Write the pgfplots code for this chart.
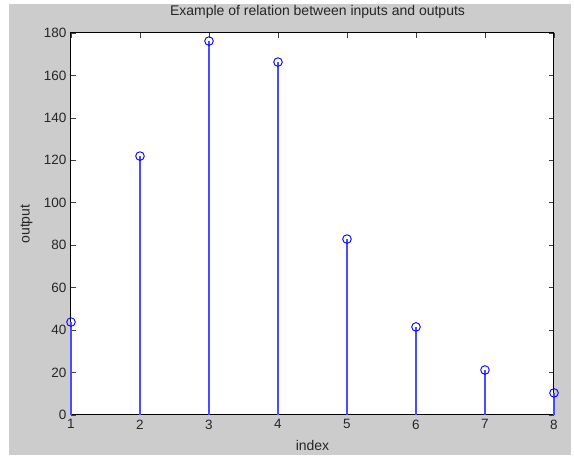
\documentclass[border=0pt]{standalone}
\usepackage{pgfplots}
\pgfplotsset{compat=1.18}
\usepackage{fontspec}
\setmainfont{Liberation Sans}
\definecolor{figgray}{gray}{0.8}
\definecolor{stemblue}{rgb}{0.3,0.3,1}
\begin{document}
\fontsize{13.5}{16}\selectfont
\begin{tikzpicture}[x=1pt,y=1pt]
\fill[white] (0,0) rectangle (574,461);
\fill[figgray] (9,6) rectangle (571,457);
\begin{axis}[
  at={(71pt,46pt)}, anchor=south west,
  width=483pt, height=382pt, scale only axis,
  xmin=1, xmax=8, ymin=0, ymax=180,
  xtick={1,...,8}, ytick={0,20,...,180},
  tick pos=both, tick align=inside,
  major tick length=5pt,
  tick style={black!75, line width=0.7pt},
  axis line style={black, line width=1pt},
  axis background/.style={fill=white},
  /pgf/number format/assume math mode=true,
  ticklabel style={font=\fontsize{13.5}{16}\selectfont, text=black!85},
  title={Example of relation between inputs and outputs},
  title style={at={(axis description cs:0.5,1)}, anchor=base, yshift=11pt, xshift=5pt, inner sep=0pt, font=\fontsize{14}{16}\selectfont, text=black!85},
  xlabel={index},
  xlabel style={at={(axis description cs:0.5,0)}, anchor=base, yshift=-36pt, inner sep=0pt, font=\fontsize{14}{16}\selectfont, text=black!85},
  ylabel={output},
  ylabel style={at={(axis description cs:-0.0859,0.5)}, anchor=base, rotate=0, inner sep=0pt, font=\fontsize{14}{16}\selectfont, text=black!85},
  clip=false,
]
\addplot[ycomb, draw=stemblue, color=stemblue, line width=1.05pt, mark=o, mark size=4.3pt, mark options={solid, draw=blue, line width=0.9pt}]
  coordinates {(1,43.8) (2,122) (3,176.2) (4,166.3) (5,82.9) (6,41.5) (7,21.2) (8,10.4)};
\end{axis}
\end{tikzpicture}
\end{document}
